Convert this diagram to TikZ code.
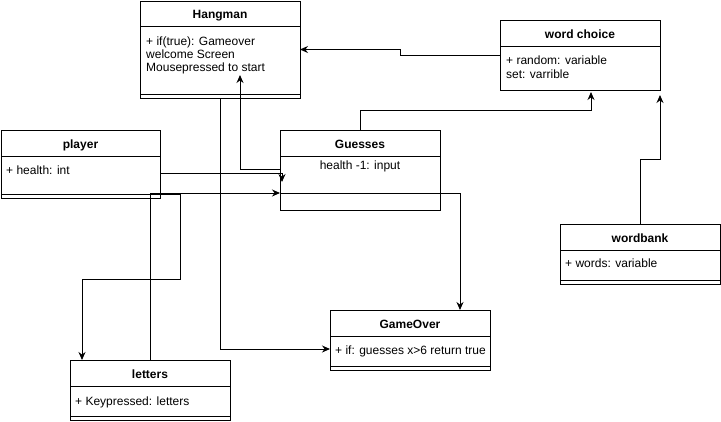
\documentclass[tikz,border=0pt]{standalone}
\usepackage{fontspec}
\setmainfont{Liberation Sans}
\usetikzlibrary{arrows.meta}
\begin{document}
\begin{tikzpicture}[x=1pt,y=-1pt,
  cls/.style={draw, line width=1pt, rectangle, anchor=north west, minimum width=160pt, inner sep=0pt, outer sep=0pt},
  ttl/.style={font=\fontsize{12}{14}\selectfont\bfseries, anchor=base, inner sep=0pt},
  attr/.style={font=\fontsize{12}{14}\selectfont, anchor=base west, inner sep=0pt},
  attrc/.style={font=\fontsize{12}{14}\selectfont, anchor=base, inner sep=0pt},
  arr/.style={line width=1pt, -{Stealth[length=8pt,width=7pt]}},
  ln/.style={line width=1pt}]
\useasboundingbox (0,0) rectangle (721,421);

% Hangman
\node[cls, minimum height=97pt] (hang) at (140,1) {};
\draw[ln] ([yshift=-25pt]hang.north west) -- ([yshift=-25pt]hang.north east);
\draw[ln] ([yshift=-93pt]hang.north west) -- ([yshift=-93pt]hang.north east);
\node[ttl] (hangT) at (220,18.5) {Hangman};
\node[attr] (hangA) at (146,45.5) {+ if(true): Gameover};
\node[attr] (hangB) at (146,58.5) {welcome Screen};
\node[attr] (hangC) at (146,71.5) {Mousepressed to start};

% word choice
\node[cls, minimum height=70pt] (wc) at (500,20) {};
\draw[ln] ([yshift=-26pt]wc.north west) -- ([yshift=-26pt]wc.north east);
\node[ttl] (wcT) at (580,38.5) {word choice};
\node[attr] (wcA) at (506,64) {+ random: variable};
\node[attr] (wcB) at (506,78) {set: varrible};

% Guesses
\node[cls, minimum height=80pt] (gs) at (280,130) {};
\draw[ln] ([yshift=-26pt]gs.north west) -- ([yshift=-26pt]gs.north east);
\draw[ln] ([yshift=-63pt]gs.north west) -- ([yshift=-63pt]gs.north east);
\node[ttl] (gsT) at (360,148.5) {Guesses};
\node[attrc] (gsA) at (360,169.5) {health -1: input};

% player
\node[cls, minimum width=159pt, minimum height=68pt] (pl) at (1,130) {};
\draw[ln] ([yshift=-26pt]pl.north west) -- ([yshift=-26pt]pl.north east);
\draw[ln] ([yshift=-64pt]pl.north west) -- ([yshift=-64pt]pl.north east);
\node[ttl] (plT) at (80.5,148.5) {player};
\node[attr] (plA) at (6,174) {+ health: int};

% GameOver
\node[cls, minimum height=60pt] (go) at (330,310) {};
\draw[ln] ([yshift=-26pt]go.north west) -- ([yshift=-26pt]go.north east);
\draw[ln] ([yshift=-56.5pt]go.north west) -- ([yshift=-56.5pt]go.north east);
\node[ttl] (goT) at (410,328.5) {GameOver};
\node[attr] (goA) at (335,354) {+ if: guesses x>6 return true};

% letters
\node[cls, minimum height=60pt] (lt) at (70,360) {};
\draw[ln] ([yshift=-26.5pt]lt.north west) -- ([yshift=-26.5pt]lt.north east);
\draw[ln] ([yshift=-56.5pt]lt.north west) -- ([yshift=-56.5pt]lt.north east);
\node[ttl] (ltT) at (150,378.5) {letters};
\node[attr] (ltA) at (75,405) {+ Keypressed: letters};

% wordbank
\node[cls, minimum height=60pt] (wb) at (560,224) {};
\draw[ln] ([yshift=-26.5pt]wb.north west) -- ([yshift=-26.5pt]wb.north east);
\draw[ln] ([yshift=-56pt]wb.north west) -- ([yshift=-56pt]wb.north east);
\node[ttl] (wbT) at (640,242.5) {wordbank};
\node[attr] (wbA) at (565,267.5) {+ words: variable};

% connectors
\draw[arr] ([yshift=-35pt]wc.north west) -- (400,55) -- (400,49.5) -- ([yshift=-48.5pt]hang.north east);
\draw[arr] ([yshift=-39pt]gs.north west) -- (240,169) -- ([xshift=100pt,yshift=-74pt]hang.north west);
\draw[arr] (gs.north) -- (360,110) -- (591,110) -- ([xshift=91pt,yshift=-2pt]wc.south west);
\draw[arr] (wb.north) -- (640,159) -- (660,159) -- ([yshift=-5pt]wc.south east);
\draw[arr] ([yshift=-43pt]pl.north east) -- (282,173) -- ([xshift=2pt,yshift=-52pt]gs.north west);
\draw[arr] ([xshift=80pt]lt.north west) -- (150,193) -- ([yshift=-63pt]gs.north west);
\draw[arr] ([yshift=-64pt]pl.north east) -- (180,194) -- (180,279) -- (82,279) -- ([xshift=12pt]lt.north west);
\draw[arr] ([xshift=80pt]hang.south west) -- (220,349) -- ([yshift=-39pt]go.north west);
\draw[arr] ([yshift=-63pt]gs.north east) -- (460,193) -- ([xshift=130pt]go.north west);
\end{tikzpicture}
\end{document}
